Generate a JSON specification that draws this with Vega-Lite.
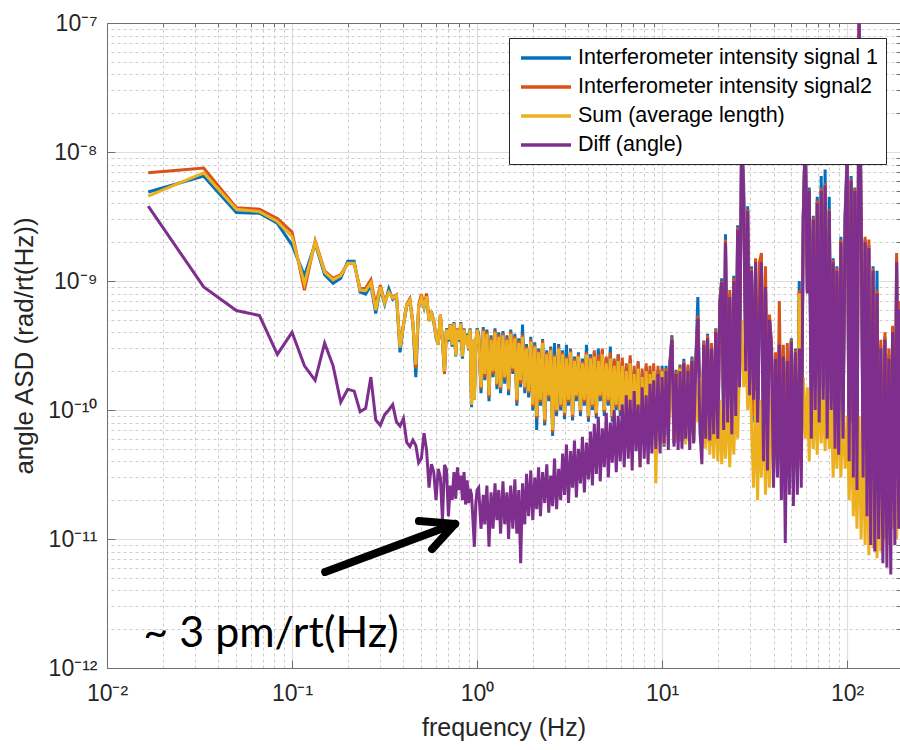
{
"$schema": "https://vega.github.io/schema/vega-lite/v6.json",
"width": 793, "height": 645,
"autosize": "none",
"padding": {"left": 107, "top": 23, "right": 0, "bottom": 82},
"background": "white",
"config": {"view": {"stroke": null}, "font": "Liberation Sans"},
"datasets": {
"psd": [
{"f":0.0167,"a":4.9e-9,"b":6.9e-9,"c":4.55e-9,"d":3.8e-9},
{"f":0.0333,"a":6.5e-9,"b":7.5e-9,"c":6.9e-9,"d":9.0e-10},
{"f":0.05,"a":3.4e-9,"b":3.7e-9,"c":3.6e-9,"d":5.9e-10},
{"f":0.0667,"a":3.35e-9,"b":3.6e-9,"c":3.45e-9,"d":5.4e-10},
{"f":0.0833,"a":2.8e-9,"b":3.05e-9,"c":2.9e-9,"d":2.7e-10},
{"f":0.1,"a":1.9e-9,"b":2.4e-9,"c":2.2e-9,"d":4.0e-10},
{"f":0.1167,"a":1.1e-9,"b":8.5e-10,"c":9.5e-10,"d":2.2e-10},
{"f":0.1333,"a":1.95e-9,"b":2.05e-9,"c":2.0e-9,"d":1.7e-10},
{"f":0.15,"a":1.12e-9,"b":1.2e-9,"c":1.17e-9,"d":3.3e-10},
{"f":0.1667,"a":9.6e-10,"b":1.05e-9,"c":1.02e-9,"d":2.2e-10},
{"f":0.1833,"a":1.05e-9,"b":1.12e-9,"c":1.1e-9,"d":1.15e-10},
{"f":0.2,"a":1.42e-9,"b":1.37e-9,"c":1.37e-9,"d":1.45e-10},
{"f":0.2167,"a":1.42e-9,"b":1.36e-9,"c":1.37e-9,"d":1.4e-10},
{"f":0.2333,"a":8.2e-10,"b":8.7e-10,"c":8.5e-10,"d":9.7e-11},
{"f":0.25,"a":7.9e-10,"b":8.8e-10,"c":8.4e-10,"d":1.03e-10},
{"f":0.2667,"a":9.3e-10,"b":1.02e-9,"c":9.65e-10,"d":1.8e-10},
{"f":0.2833,"a":5.6e-10,"b":6.5e-10,"c":5.95e-10,"d":8.4e-11},
{"f":0.3,"a":8.7e-10,"b":9.3e-10,"c":9.0e-10,"d":7.6e-11},
{"f":0.3167,"a":6.6e-10,"b":6.9e-10,"c":6.75e-10,"d":9.2e-11},
{"f":0.3333,"a":8.7e-10,"b":8.2e-10,"c":8.2e-10,"d":1.0e-10},
{"f":0.35,"a":7.2e-10,"b":7.5e-10,"c":7.4e-10,"d":1.1e-10},
{"f":0.3667,"a":7.7e-10,"b":7.8e-10,"c":7.7e-10,"d":8.1e-11},
{"f":0.3833,"a":2.8e-10,"b":3.2e-10,"c":3.05e-10,"d":7.5e-11},
{"f":0.4,"a":4.5e-10,"b":4.6e-10,"c":4.55e-10,"d":8.6e-11},
{"f":0.4167,"a":6.4e-10,"b":6.6e-10,"c":6.5e-10,"d":5.6e-11},
{"f":0.4333,"a":7.0e-10,"b":7.3e-10,"c":7.1e-10,"d":5.2e-11},
{"f":0.45,"a":4.6e-10,"b":4.8e-10,"c":4.7e-10,"d":5.85e-11},
{"f":0.4667,"a":1.8e-10,"b":2.1e-10,"c":2.25e-10,"d":5.3e-11},
{"f":0.4833,"a":6.2e-10,"b":6.5e-10,"c":6.3e-10,"d":3.9e-11},
{"f":0.5,"a":7.3e-10,"b":7.9e-10,"c":7.4e-10,"d":4.2e-11},
{"f":0.5167,"a":6.2e-10,"b":6.4e-10,"c":6.3e-10,"d":6.6e-11},
{"f":0.5333,"a":7.5e-10,"b":8.0e-10,"c":7.6e-10,"d":4.9e-11},
{"f":0.55,"a":4.9e-10,"b":4.9e-10,"c":4.9e-10,"d":2.5e-11},
{"f":0.5667,"a":5.8e-10,"b":5.6e-10,"c":5.6e-10,"d":3.8e-11},
{"f":0.5833,"a":4.8e-10,"b":5.0e-10,"c":4.9e-10,"d":3.3e-11},
{"f":0.6,"a":3.6e-10,"b":3.7e-10,"c":3.7e-10,"d":2.0e-11},
{"f":0.6167,"a":3.2e-10,"b":3.3e-10,"c":3.2e-10,"d":3.5e-11},
{"f":0.6333,"a":5.4e-10,"b":5.5e-10,"c":5.45e-10,"d":3.0e-11},
{"f":0.65,"a":3.4e-10,"b":3.5e-10,"c":3.5e-10,"d":1.4e-11},
{"f":0.6667,"a":2.0e-10,"b":1.9e-10,"c":2.0e-10,"d":3.75e-11},
{"f":0.6833,"a":4.3e-10,"b":4.2e-10,"c":4.2e-10,"d":3.45e-11},
{"f":0.7,"a":3.4e-10,"b":3.5e-10,"c":3.5e-10,"d":1.5e-11},
{"f":0.7167,"a":4.6e-10,"b":4.6e-10,"c":4.55e-10,"d":2.6e-11},
{"f":0.7333,"a":3.1e-10,"b":3.2e-10,"c":3.2e-10,"d":2.0e-11},
{"f":0.75,"a":4.8e-10,"b":4.7e-10,"c":4.7e-10,"d":3.3e-11},
{"f":0.7667,"a":2.6e-10,"b":2.7e-10,"c":2.65e-10,"d":2.05e-11},
{"f":0.7833,"a":4.2e-10,"b":4.3e-10,"c":4.2e-10,"d":3.6e-11},
{"f":0.8,"a":3.4e-10,"b":3.5e-10,"c":3.5e-10,"d":2.4e-11},
{"f":0.8167,"a":4.8e-10,"b":4.7e-10,"c":4.7e-10,"d":3.1e-11},
{"f":0.8333,"a":2.5e-10,"b":2.6e-10,"c":2.6e-10,"d":2.0e-11},
{"f":0.85,"a":4.3e-10,"b":4.2e-10,"c":4.2e-10,"d":3.3e-11},
{"f":0.8667,"a":3.2e-10,"b":3.2e-10,"c":3.2e-10,"d":1.85e-11},
{"f":0.8833,"a":3.9e-10,"b":3.8e-10,"c":3.8e-10,"d":2.85e-11},
{"f":0.9,"a":2.9e-10,"b":3.0e-10,"c":2.95e-10,"d":1.9e-11},
{"f":0.9167,"a":4.3e-10,"b":4.2e-10,"c":4.2e-10,"d":2.45e-11},
{"f":0.9333,"a":1.05e-10,"b":1.1e-10,"c":1.1e-10,"d":2.2e-11},
{"f":0.95,"a":3.5e-10,"b":3.5e-10,"c":3.5e-10,"d":1.4e-11},
{"f":0.9667,"a":1.2e-10,"b":1.25e-10,"c":1.2e-10,"d":8.7e-12},
{"f":0.9833,"a":3.2e-10,"b":3.3e-10,"c":3.2e-10,"d":1.85e-11},
{"f":1.0,"a":4.3e-10,"b":4.2e-10,"c":4.2e-10,"d":2.4e-11},
{"f":1.02,"a":3.9e-10,"b":3.75e-10,"c":3.6e-10,"d":2.5e-11},
{"f":1.05,"a":1.35e-10,"b":1.45e-10,"c":1.5e-10,"d":1.2e-11},
{"f":1.08,"a":4.4e-10,"b":4.25e-10,"c":4.1e-10,"d":2.2e-11},
{"f":1.1,"a":1.7e-10,"b":1.8e-10,"c":1.9e-10,"d":1.3e-11},
{"f":1.13,"a":4.2e-10,"b":4.05e-10,"c":3.9e-10,"d":2.6e-11},
{"f":1.16,"a":1.17e-10,"b":1.25e-10,"c":1.3e-10,"d":8.7e-12},
{"f":1.19,"a":3.8e-10,"b":3.65e-10,"c":3.5e-10,"d":2.3e-11},
{"f":1.22,"a":1.8e-10,"b":1.9e-10,"c":2.0e-10,"d":1.2e-11},
{"f":1.25,"a":4.3e-10,"b":4.15e-10,"c":4.0e-10,"d":2.7e-11},
{"f":1.28,"a":1.45e-10,"b":1.55e-10,"c":1.6e-10,"d":1.4e-11},
{"f":1.31,"a":4.0e-10,"b":3.85e-10,"c":3.7e-10,"d":2.4e-11},
{"f":1.34,"a":1.35e-10,"b":1.45e-10,"c":1.5e-10,"d":1.1e-11},
{"f":1.38,"a":4.1e-10,"b":3.95e-10,"c":3.8e-10,"d":2.8e-11},
{"f":1.41,"a":1.6e-10,"b":1.75e-10,"c":1.8e-10,"d":1.3e-11},
{"f":1.45,"a":3.8e-10,"b":3.65e-10,"c":3.5e-10,"d":2.3e-11},
{"f":1.48,"a":1.3e-10,"b":1.4e-10,"c":1.45e-10,"d":1.0e-11},
{"f":1.52,"a":4.2e-10,"b":4.05e-10,"c":3.9e-10,"d":2.6e-11},
{"f":1.56,"a":1.9e-10,"b":2.0e-10,"c":2.1e-10,"d":1.2e-11},
{"f":1.6,"a":3.9e-10,"b":3.75e-10,"c":3.6e-10,"d":2.9e-11},
{"f":1.64,"a":1.08e-10,"b":1.15e-10,"c":1.2e-10,"d":1.1e-11},
{"f":1.68,"a":3.6e-10,"b":3.45e-10,"c":3.3e-10,"d":2.4e-11},
{"f":1.72,"a":1.5e-10,"b":1.6e-10,"c":1.7e-10,"d":6.5e-12},
{"f":1.76,"a":4.6e-10,"b":3.85e-10,"c":3.7e-10,"d":2.7e-11},
{"f":1.81,"a":1.35e-10,"b":1.45e-10,"c":1.5e-10,"d":1.3e-11},
{"f":1.85,"a":3.25e-10,"b":3.1e-10,"c":3.0e-10,"d":3.2e-11},
{"f":1.9,"a":1.25e-10,"b":1.35e-10,"c":1.4e-10,"d":1.5e-11},
{"f":1.95,"a":3.7e-10,"b":3.55e-10,"c":3.4e-10,"d":3.4e-11},
{"f":2.0,"a":9.9e-11,"b":1.05e-10,"c":1.1e-10,"d":1.4e-11},
{"f":2.05,"a":3.35e-10,"b":3.2e-10,"c":3.1e-10,"d":3.0e-11},
{"f":2.1,"a":7.0e-11,"b":8.6e-11,"c":9.0e-11,"d":1.7e-11},
{"f":2.15,"a":3.0e-10,"b":2.9e-10,"c":2.8e-10,"d":3.6e-11},
{"f":2.2,"a":1.08e-10,"b":1.15e-10,"c":1.2e-10,"d":1.5e-11},
{"f":2.26,"a":3.55e-10,"b":3.45e-10,"c":3.3e-10,"d":3.3e-11},
{"f":2.32,"a":7.6e-11,"b":8.0e-11,"c":8.4e-11,"d":1.9e-11},
{"f":2.38,"a":2.9e-10,"b":2.8e-10,"c":2.7e-10,"d":3.8e-11},
{"f":2.44,"a":1.17e-10,"b":1.25e-10,"c":1.3e-10,"d":1.6e-11},
{"f":2.5,"a":3.1e-10,"b":3.0e-10,"c":2.9e-10,"d":3.1e-11},
{"f":2.56,"a":6.3e-11,"b":6.7e-11,"c":7.0e-11,"d":1.8e-11},
{"f":2.62,"a":3.3e-10,"b":2.7e-10,"c":2.6e-10,"d":4.2e-11},
{"f":2.69,"a":9.0e-11,"b":9.6e-11,"c":1.0e-10,"d":1.7e-11},
{"f":2.76,"a":3.25e-10,"b":3.1e-10,"c":3.0e-10,"d":3.5e-11},
{"f":2.83,"a":9.9e-11,"b":1.05e-10,"c":1.1e-10,"d":2.0e-11},
{"f":2.9,"a":2.9e-10,"b":2.8e-10,"c":2.7e-10,"d":4.6e-11},
{"f":2.97,"a":8.5e-11,"b":9.1e-11,"c":9.5e-11,"d":2.2e-11},
{"f":3.04,"a":3.2e-10,"b":2.6e-10,"c":2.5e-10,"d":5.4e-11},
{"f":3.12,"a":1.08e-10,"b":1.15e-10,"c":1.2e-10,"d":1.9e-11},
{"f":3.2,"a":3.0e-10,"b":2.9e-10,"c":2.8e-10,"d":4.8e-11},
{"f":3.28,"a":8.3e-11,"b":8.8e-11,"c":9.2e-11,"d":2.5e-11},
{"f":3.36,"a":2.6e-10,"b":2.5e-10,"c":2.4e-10,"d":5.8e-11},
{"f":3.44,"a":1.17e-10,"b":1.25e-10,"c":1.3e-10,"d":2.1e-11},
{"f":3.53,"a":2.8e-10,"b":2.7e-10,"c":2.6e-10,"d":5.0e-11},
{"f":3.62,"a":9.0e-11,"b":9.6e-11,"c":1.0e-10,"d":2.7e-11},
{"f":3.71,"a":2.5e-10,"b":2.4e-10,"c":2.3e-10,"d":6.2e-11},
{"f":3.8,"a":1.08e-10,"b":1.15e-10,"c":1.2e-10,"d":2.3e-11},
{"f":3.9,"a":3.2e-10,"b":2.8e-10,"c":2.7e-10,"d":5.6e-11},
{"f":4.0,"a":8.1e-11,"b":8.6e-11,"c":9.0e-11,"d":2.9e-11},
{"f":4.1,"a":2.7e-10,"b":2.6e-10,"c":2.5e-10,"d":6.8e-11},
{"f":4.2,"a":1.0e-10,"b":1.05e-10,"c":1.1e-10,"d":2.6e-11},
{"f":4.3,"a":2.8e-10,"b":2.9e-10,"c":2.6e-10,"d":7.8e-11},
{"f":4.41,"a":8.6e-11,"b":9.1e-11,"c":9.5e-11,"d":3.2e-11},
{"f":4.52,"a":3.0e-10,"b":2.7e-10,"c":2.4e-10,"d":8.8e-11},
{"f":4.63,"a":1.17e-10,"b":1.25e-10,"c":1.3e-10,"d":2.8e-11},
{"f":4.75,"a":2.9e-10,"b":3.0e-10,"c":2.7e-10,"d":7.2e-11},
{"f":4.87,"a":9.0e-11,"b":9.6e-11,"c":1.0e-10,"d":3.6e-11},
{"f":4.99,"a":2.5e-10,"b":2.6e-10,"c":2.3e-10,"d":9.5e-11},
{"f":5.12,"a":1.08e-10,"b":1.15e-10,"c":1.2e-10,"d":3.0e-11},
{"f":5.25,"a":3.1e-10,"b":2.8e-10,"c":2.5e-10,"d":8.0e-11},
{"f":5.38,"a":8.1e-11,"b":8.6e-11,"c":9.0e-11,"d":3.9e-11},
{"f":5.51,"a":2.4e-10,"b":2.5e-10,"c":2.2e-10,"d":1.0e-10},
{"f":5.65,"a":1.0e-10,"b":1.05e-10,"c":1.1e-10,"d":3.3e-11},
{"f":5.79,"a":2.7e-10,"b":2.7e-10,"c":2.4e-10,"d":9.0e-11},
{"f":5.94,"a":9.0e-11,"b":9.6e-11,"c":1.0e-10,"d":4.0e-11},
{"f":6.09,"a":2.4e-10,"b":2.55e-10,"c":2.2e-10,"d":1.1e-10},
{"f":6.24,"a":7.6e-11,"b":7.8e-11,"c":8.0e-11,"d":3.6e-11},
{"f":6.4,"a":2.15e-10,"b":2.3e-10,"c":2.0e-10,"d":1.3e-10},
{"f":6.56,"a":6.6e-11,"b":6.8e-11,"c":7.0e-11,"d":4.2e-11},
{"f":6.72,"a":2.5e-10,"b":2.65e-10,"c":2.3e-10,"d":1.2e-10},
{"f":6.89,"a":5.7e-11,"b":5.8e-11,"c":6.0e-11,"d":3.4e-11},
{"f":7.06,"a":2.05e-10,"b":2.2e-10,"c":1.9e-10,"d":1.4e-10},
{"f":7.24,"a":7.6e-11,"b":7.8e-11,"c":8.0e-11,"d":4.8e-11},
{"f":7.42,"a":2.3e-10,"b":2.4e-10,"c":2.1e-10,"d":1.1e-10},
{"f":7.6,"a":4.0e-11,"b":4.2e-11,"c":3.6e-11,"d":3.6e-11},
{"f":7.8,"a":1.95e-10,"b":2.1e-10,"c":1.8e-10,"d":1.5e-10},
{"f":8.0,"a":6.2e-11,"b":6.3e-11,"c":6.5e-11,"d":4.2e-11},
{"f":8.2,"a":2.15e-10,"b":2.3e-10,"c":2.0e-10,"d":1.3e-10},
{"f":8.4,"a":5.5e-11,"b":5.6e-11,"c":5.8e-11,"d":3.8e-11},
{"f":8.6,"a":2.05e-10,"b":2.2e-10,"c":1.9e-10,"d":1.6e-10},
{"f":8.8,"a":6.6e-11,"b":6.8e-11,"c":7.0e-11,"d":4.6e-11},
{"f":9.0,"a":2.15e-10,"b":2.3e-10,"c":2.0e-10,"d":1.7e-10},
{"f":9.25,"a":4.5e-11,"b":4.8e-11,"c":2.7e-11,"d":5.0e-11},
{"f":9.5,"a":2.05e-10,"b":2.2e-10,"c":1.8e-10,"d":1.9e-10},
{"f":9.75,"a":5.7e-11,"b":5.8e-11,"c":6.0e-11,"d":4.6e-11},
{"f":10.0,"a":2.2e-10,"b":2.1e-10,"c":2.0e-10,"d":1.8e-10},
{"f":10.25,"a":5.2e-11,"b":5.3e-11,"c":5.4e-11,"d":5.5e-11},
{"f":10.5,"a":2.2e-10,"b":2.1e-10,"c":1.9e-10,"d":2.0e-10},
{"f":10.8,"a":6.2e-11,"b":6.3e-11,"c":6.5e-11,"d":4.9e-11},
{"f":11.0,"a":2.3e-10,"b":2.2e-10,"c":1.7e-10,"d":2.1e-10},
{"f":11.3,"a":3.8e-10,"b":3.65e-10,"c":1.5e-10,"d":3.5e-10},
{"f":11.6,"a":5.5e-11,"b":5.6e-11,"c":5.8e-11,"d":5.2e-11},
{"f":11.9,"a":2.05e-10,"b":2.0e-10,"c":1.8e-10,"d":1.9e-10},
{"f":12.2,"a":5.7e-11,"b":5.8e-11,"c":6.0e-11,"d":4.9e-11},
{"f":12.5,"a":2.25e-10,"b":2.2e-10,"c":2.1e-10,"d":2.0e-10},
{"f":12.8,"a":5.7e-11,"b":5.8e-11,"c":6.0e-11,"d":5.0e-11},
{"f":13.1,"a":2.5e-10,"b":2.4e-10,"c":2.0e-10,"d":2.3e-10},
{"f":13.4,"a":5.7e-11,"b":5.8e-11,"c":5.4e-11,"d":6.0e-11},
{"f":13.8,"a":2.15e-10,"b":2.25e-10,"c":1.8e-10,"d":2.0e-10},
{"f":14.1,"a":6.6e-11,"b":6.8e-11,"c":7.0e-11,"d":4.9e-11},
{"f":14.5,"a":2.6e-10,"b":2.5e-10,"c":1.9e-10,"d":2.4e-10},
{"f":14.8,"a":5.6e-11,"b":5.7e-11,"c":5.8e-11,"d":5.5e-11},
{"f":15.2,"a":2.4e-10,"b":2.3e-10,"c":1.7e-10,"d":2.2e-10},
{"f":15.6,"a":7.5e-10,"b":5.4e-10,"c":8.0e-11,"d":5.1e-10},
{"f":16.0,"a":1.0e-10,"b":1.1e-10,"c":1.8e-10,"d":7.0e-11},
{"f":16.4,"a":5.0e-11,"b":5.2e-11,"c":6.0e-11,"d":3.8e-11},
{"f":16.8,"a":3.45e-10,"b":3.4e-10,"c":1.9e-10,"d":3.2e-10},
{"f":17.2,"a":5.5e-11,"b":5.6e-11,"c":5.0e-11,"d":6.0e-11},
{"f":17.6,"a":3.9e-10,"b":3.8e-10,"c":1.7e-10,"d":3.6e-10},
{"f":18.1,"a":5.2e-11,"b":5.3e-11,"c":4.5e-11,"d":5.8e-11},
{"f":18.5,"a":3.2e-10,"b":3.3e-10,"c":1.6e-10,"d":3.0e-10},
{"f":19.0,"a":5.5e-11,"b":5.6e-11,"c":4.2e-11,"d":6.5e-11},
{"f":19.5,"a":4.3e-10,"b":4.2e-10,"c":1.4e-10,"d":4.0e-10},
{"f":20.0,"a":5.0e-11,"b":5.5e-11,"c":4.0e-11,"d":6.0e-11},
{"f":20.5,"a":7.0e-10,"b":6.8e-10,"c":1.2e-10,"d":6.5e-10},
{"f":21.0,"a":1.05e-9,"b":1.0e-9,"c":3.8e-11,"d":9.8e-10},
{"f":21.5,"a":8.0e-11,"b":8.5e-11,"c":1.1e-10,"d":7.0e-11},
{"f":22.0,"a":2.3e-9,"b":2.1e-9,"c":4.2e-11,"d":2.0e-9},
{"f":22.6,"a":9.0e-11,"b":1.0e-10,"c":1.3e-10,"d":8.0e-11},
{"f":23.2,"a":8.0e-10,"b":8.5e-10,"c":3.6e-11,"d":7.5e-10},
{"f":23.8,"a":8.0e-11,"b":9.0e-11,"c":1.2e-10,"d":6.5e-11},
{"f":24.4,"a":1.1e-9,"b":1.05e-9,"c":4.5e-11,"d":1.0e-9},
{"f":25.0,"a":1.1e-10,"b":1.2e-10,"c":1.5e-10,"d":9.0e-11},
{"f":25.6,"a":2.7e-9,"b":2.6e-9,"c":6.0e-11,"d":2.5e-9},
{"f":26.2,"a":1.7e-10,"b":1.8e-10,"c":2.0e-10,"d":1.5e-10},
{"f":26.9,"a":1.4e-8,"b":1.3e-8,"c":5.0e-10,"d":1.5e-8},
{"f":27.6,"a":5.7e-9,"b":4.5e-9,"c":1.5e-10,"d":4.0e-9},
{"f":28.3,"a":2.5e-10,"b":2.8e-10,"c":3.5e-10,"d":2.0e-10},
{"f":29.0,"a":3.8e-9,"b":3.6e-9,"c":1.0e-10,"d":3.5e-9},
{"f":29.7,"a":1.6e-10,"b":1.8e-10,"c":2.5e-10,"d":1.3e-10},
{"f":30.4,"a":1.3e-9,"b":1.25e-9,"c":8.0e-11,"d":1.2e-9},
{"f":31.2,"a":8.0e-11,"b":9.0e-11,"c":2.5e-11,"d":1.2e-10},
{"f":32.0,"a":1.45e-9,"b":1.5e-9,"c":1.4e-10,"d":1.4e-9},
{"f":32.8,"a":5.0e-11,"b":6.0e-11,"c":2.0e-11,"d":8.0e-11},
{"f":33.6,"a":6.5e-10,"b":1.4e-9,"c":1.2e-10,"d":6.0e-10},
{"f":34.4,"a":1.45e-9,"b":1.65e-9,"c":3.0e-11,"d":1.4e-9},
{"f":35.3,"a":7.0e-11,"b":9.0e-11,"c":1.3e-10,"d":4.0e-11},
{"f":36.2,"a":9.5e-10,"b":1.3e-9,"c":2.2e-11,"d":9.0e-10},
{"f":37.1,"a":6.0e-11,"b":8.0e-11,"c":1.0e-10,"d":3.4e-11},
{"f":38.0,"a":5.3e-10,"b":5.5e-10,"c":2.5e-11,"d":5.0e-10},
{"f":39.0,"a":3.2e-10,"b":3.3e-10,"c":1.4e-10,"d":3.0e-10},
{"f":40.0,"a":3.5e-11,"b":4.5e-11,"c":4.0e-11,"d":2.5e-11},
{"f":41.0,"a":2.7e-10,"b":2.8e-10,"c":1.2e-10,"d":2.5e-10},
{"f":42.0,"a":3.3e-11,"b":4.0e-11,"c":3.5e-11,"d":3.0e-11},
{"f":43.0,"a":3.4e-10,"b":7.0e-10,"c":1.5e-10,"d":3.2e-10},
{"f":44.1,"a":3.0e-11,"b":4.5e-11,"c":4.0e-11,"d":2.0e-11},
{"f":45.2,"a":2.8e-10,"b":3.2e-10,"c":1.3e-10,"d":2.6e-10},
{"f":46.3,"a":2.0e-11,"b":3.0e-11,"c":3.8e-11,"d":9.3e-12},
{"f":47.5,"a":2.6e-10,"b":3.3e-10,"c":1.1e-10,"d":2.4e-10},
{"f":48.7,"a":3.0e-11,"b":4.0e-11,"c":4.5e-11,"d":2.2e-11},
{"f":49.9,"a":3.6e-10,"b":3.5e-10,"c":1.5e-10,"d":3.4e-10},
{"f":51.2,"a":2.5e-11,"b":3.0e-11,"c":3.6e-11,"d":1.8e-11},
{"f":52.5,"a":3.0e-10,"b":2.9e-10,"c":1.4e-10,"d":2.8e-10},
{"f":53.8,"a":3.5e-11,"b":4.0e-11,"c":5.0e-11,"d":2.2e-11},
{"f":55.1,"a":1.0e-9,"b":8.5e-10,"c":8.0e-10,"d":3.0e-10},
{"f":56.5,"a":3.5e-11,"b":4.0e-11,"c":5.0e-11,"d":2.5e-11},
{"f":57.9,"a":3.2e-9,"b":3.1e-9,"c":1.8e-10,"d":3.0e-9},
{"f":59.4,"a":1.4e-8,"b":1.3e-8,"c":6.0e-11,"d":1.5e-8},
{"f":60.9,"a":8.5e-10,"b":8.2e-10,"c":1.5e-10,"d":8.0e-10},
{"f":62.4,"a":5.3e-9,"b":5.1e-9,"c":4.0e-11,"d":5.0e-9},
{"f":64.0,"a":1.0e-10,"b":1.2e-10,"c":1.7e-10,"d":6.0e-11},
{"f":65.6,"a":3.2e-9,"b":3.1e-9,"c":5.0e-11,"d":3.0e-9},
{"f":67.2,"a":1.2e-10,"b":1.3e-10,"c":1.6e-10,"d":1.0e-10},
{"f":68.9,"a":4.5e-9,"b":4.2e-9,"c":4.5e-11,"d":4.0e-9},
{"f":70.6,"a":1.1e-10,"b":1.2e-10,"c":1.7e-10,"d":8.0e-11},
{"f":72.4,"a":6.5e-9,"b":5.2e-9,"c":5.5e-11,"d":5.0e-9},
{"f":74.2,"a":1.3e-10,"b":1.4e-10,"c":1.5e-10,"d":1.2e-10},
{"f":76.0,"a":7.3e-9,"b":5.7e-9,"c":4.8e-11,"d":5.5e-9},
{"f":78.0,"a":1.0e-10,"b":1.1e-10,"c":1.8e-10,"d":6.0e-11},
{"f":80.0,"a":4.5e-9,"b":3.6e-9,"c":5.0e-11,"d":3.5e-9},
{"f":82.0,"a":1.1e-10,"b":1.1e-10,"c":1.2e-10,"d":1.0e-10},
{"f":84.0,"a":1.5e-9,"b":1.45e-9,"c":3.0e-11,"d":1.4e-9},
{"f":86.0,"a":7.0e-11,"b":8.0e-11,"c":1.1e-10,"d":5.0e-11},
{"f":88.0,"a":1.3e-9,"b":1.25e-9,"c":3.5e-11,"d":1.2e-9},
{"f":90.0,"a":7.0e-11,"b":8.0e-11,"c":1.2e-10,"d":4.5e-11},
{"f":92.5,"a":2.2e-9,"b":2.1e-9,"c":3.0e-11,"d":2.0e-9},
{"f":95.0,"a":7.5e-11,"b":8.0e-11,"c":1.0e-10,"d":6.0e-11},
{"f":97.5,"a":3.3e-9,"b":3.1e-9,"c":3.5e-11,"d":3.0e-9},
{"f":100,"a":9.8e-9,"b":8.3e-9,"c":9.0e-11,"d":8.0e-9},
{"f":102.5,"a":3.0e-11,"b":3.5e-11,"c":2.0e-11,"d":4.0e-11},
{"f":105,"a":6.5e-9,"b":6.2e-9,"c":8.0e-11,"d":6.0e-9},
{"f":108,"a":2.5e-11,"b":2.8e-11,"c":1.5e-11,"d":3.0e-11},
{"f":110,"a":5.3e-9,"b":5.2e-9,"c":7.0e-11,"d":5.0e-9},
{"f":113,"a":2.0e-11,"b":2.2e-11,"c":1.2e-11,"d":2.4e-11},
{"f":116,"a":1.2e-7,"b":1.2e-7,"c":9.0e-11,"d":1.2e-7},
{"f":119,"a":3.2e-9,"b":3.1e-9,"c":1.0e-11,"d":3.0e-9},
{"f":122,"a":4.0e-11,"b":4.5e-11,"c":7.5e-11,"d":3.0e-11},
{"f":125,"a":2.1e-9,"b":2.2e-9,"c":9.0e-12,"d":2.0e-9},
{"f":128,"a":3.0e-11,"b":3.5e-11,"c":8.0e-11,"d":1.5e-11},
{"f":131,"a":1.9e-9,"b":2.1e-9,"c":7.5e-12,"d":1.8e-9},
{"f":134,"a":2.0e-11,"b":2.5e-11,"c":6.0e-11,"d":9.0e-12},
{"f":138,"a":1.3e-9,"b":1.25e-9,"c":8.5e-12,"d":1.2e-9},
{"f":141,"a":2.0e-11,"b":2.2e-11,"c":5.0e-11,"d":8.0e-12},
{"f":145,"a":1.2e-9,"b":8.5e-10,"c":7.1e-12,"d":8.0e-10},
{"f":148,"a":2.0e-11,"b":2.2e-11,"c":4.5e-11,"d":1.0e-11},
{"f":152,"a":3.2e-10,"b":3.5e-10,"c":8.0e-12,"d":3.0e-10},
{"f":156,"a":1.5e-11,"b":2.0e-11,"c":6.0e-11,"d":6.5e-12},
{"f":160,"a":3.7e-10,"b":4.0e-10,"c":1.0e-11,"d":3.5e-10},
{"f":164,"a":1.5e-11,"b":2.0e-11,"c":7.0e-11,"d":6.0e-12},
{"f":168,"a":2.7e-10,"b":3.0e-10,"c":9.0e-12,"d":2.5e-10},
{"f":172,"a":1.2e-11,"b":1.5e-11,"c":5.5e-11,"d":5.3e-12},
{"f":176,"a":4.3e-10,"b":4.5e-10,"c":1.2e-11,"d":4.0e-10},
{"f":181,"a":2.0e-11,"b":2.5e-11,"c":6.0e-11,"d":9.0e-12},
{"f":185,"a":1.5e-9,"b":1.65e-9,"c":1.0e-11,"d":1.4e-9},
{"f":190,"a":2.5e-11,"b":3.0e-11,"c":5.0e-11,"d":1.2e-11},
{"f":193,"a":6.5e-10,"b":7.0e-10,"c":1.2e-11,"d":6.0e-10}
],
"arrow": [
{"f":0.151,"v":5.55e-12,"f2":0.76,"v2":1.31e-11},
{"f":0.485,"v":1.38e-11,"f2":0.76,"v2":1.31e-11},
{"f":0.571,"v":8.35e-12,"f2":0.76,"v2":1.31e-11}
],
"note": [{"f":0.0157,"v":1.46e-12,"t":"~ 3 pm/rt(Hz)"}]
},
"layer": [
{"data":{"name":"psd"},"mark":{"type":"line","strokeWidth":3,"clip":true},
 "encoding":{
  "x":{"field":"f","type":"quantitative","scale":{"type":"log","domain":[0.01,193],"nice":false},
   "axis":{"orient":"bottom","values":[0.01,0.1,1,10,100],"grid":true,"gridColor":"#dedede","gridWidth":1.2,"labelFlush":false,
    "domainColor":"#707070","tickColor":"#707070","tickSize":-8,"labelPadding":22,"labelFontSize":23,"labelColor":"#262626",
    "labelExpr":"datum.value < 0.02 ? '10⁻²' : datum.value < 0.2 ? '10⁻¹' : datum.value < 2 ? '10⁰' : datum.value < 20 ? '10¹' : '10²'",
    "title":"frequency (Hz)","titleFontSize":25,"titleFontWeight":"normal","titleColor":"#262626","titlePadding":10}},
  "y":{"field":"a","type":"quantitative","scale":{"type":"log","domain":[1e-12,1e-7],"nice":false},
   "axis":{"orient":"left","values":[1e-12,1e-11,1e-10,1e-9,1e-8,1e-7],"grid":true,"gridColor":"#dedede","gridWidth":1.2,"labelFlush":false,
    "domainColor":"#707070","tickColor":"#707070","tickSize":-8,"labelPadding":18,"labelFontSize":23,"labelColor":"#262626",
    "labelExpr":"datum.value < 2e-12 ? '10⁻¹²' : datum.value < 2e-11 ? '10⁻¹¹' : datum.value < 2e-10 ? '10⁻¹⁰' : datum.value < 2e-9 ? '10⁻⁹' : datum.value < 2e-8 ? '10⁻⁸' : '10⁻⁷'",
    "title":"angle ASD (rad/rt(Hz))","titleFontSize":26,"titleFontWeight":"normal","titleColor":"#262626","titlePadding":10}},
  "color":{"datum":"Interferometer intensity signal 1","title":null,
   "scale":{"domain":["Interferometer intensity signal 1","Interferometer intensity signal2","Sum (average length)","Diff (angle)"],"range":["#0072BD","#D95319","#EDB120","#7E2F8E"]},
   "legend":{"orient":"none","legendX":402,"legendY":15,"symbolType":"M-2.5,0H2.5","symbolSize":400,"symbolStrokeWidth":3.5,
    "symbolOffset":17,"labelOffset":20,"labelFontSize":21.5,"labelColor":"#000000","labelLimit":500,"padding":8,"rowPadding":6,
    "strokeColor":"#262626","fillColor":"#ffffff","cornerRadius":0}}
 }},
{"data":{"name":"psd"},"mark":{"type":"line","strokeWidth":3,"clip":true},
 "encoding":{
  "x":{"field":"f","type":"quantitative","scale":{"type":"log","domain":[0.01,193],"nice":false},"axis":null},
  "y":{"field":"b","type":"quantitative","scale":{"type":"log","domain":[1e-12,1e-7],"nice":false},"axis":null},
  "color":{"datum":"Interferometer intensity signal2","title":null}
 }},
{"data":{"name":"psd"},"mark":{"type":"line","strokeWidth":3,"clip":true},
 "encoding":{
  "x":{"field":"f","type":"quantitative","scale":{"type":"log","domain":[0.01,193],"nice":false},"axis":null},
  "y":{"field":"c","type":"quantitative","scale":{"type":"log","domain":[1e-12,1e-7],"nice":false},"axis":null},
  "color":{"datum":"Sum (average length)","title":null}
 }},
{"data":{"name":"psd"},"mark":{"type":"line","strokeWidth":3,"clip":true},
 "encoding":{
  "x":{"field":"f","type":"quantitative","scale":{"type":"log","domain":[0.01,193],"nice":false},"axis":null},
  "y":{"field":"d","type":"quantitative","scale":{"type":"log","domain":[1e-12,1e-7],"nice":false},"axis":null},
  "color":{"datum":"Diff (angle)","title":null}
 }},
{"data":{"name":"arrow"},"mark":{"type":"rule","strokeWidth":8,"color":"#000000","strokeCap":"round"},
 "encoding":{
  "x":{"field":"f","type":"quantitative","scale":{"type":"log","domain":[0.01,193],"nice":false},"axis":null},
  "y":{"field":"v","type":"quantitative","scale":{"type":"log","domain":[1e-12,1e-7],"nice":false},"axis":null},
  "x2":{"field":"f2"},"y2":{"field":"v2"}
 }},
{"data":{"name":"note"},"mark":{"type":"text","font":"Lato","fontSize":43,"align":"left","baseline":"alphabetic","color":"#000000"},
 "encoding":{
  "x":{"field":"f","type":"quantitative","scale":{"type":"log","domain":[0.01,193],"nice":false},
   "axis":{"orient":"top","values":[0.02,0.03,0.04,0.05,0.06,0.07,0.08,0.09,0.2,0.3,0.4,0.5,0.6,0.7,0.8,0.9,2,3,4,5,6,7,8,9,20,30,40,50,60,70,80,90],
    "grid":true,"gridColor":"#cccccc","gridDash":[3,3],"gridWidth":1,"labels":false,"tickSize":-4,"tickColor":"#707070","domainColor":"#707070","title":null}},
  "y":{"field":"v","type":"quantitative","scale":{"type":"log","domain":[1e-12,1e-7],"nice":false},
   "axis":{"orient":"right","values":[2e-12,3e-12,4e-12,5e-12,6e-12,7e-12,8e-12,9e-12,2e-11,3e-11,4e-11,5e-11,6e-11,7e-11,8e-11,9e-11,2e-10,3e-10,4e-10,5e-10,6e-10,7e-10,8e-10,9e-10,2e-9,3e-9,4e-9,5e-9,6e-9,7e-9,8e-9,9e-9,2e-8,3e-8,4e-8,5e-8,6e-8,7e-8,8e-8,9e-8],
    "grid":true,"gridColor":"#cccccc","gridDash":[3,3],"gridWidth":1,"labels":false,"tickSize":-4,"tickColor":"#707070","domainColor":"#707070","title":null}},
  "text":{"field":"t"}
 }}
],
"resolve":{"axis":{"x":"independent","y":"independent"}}
}
